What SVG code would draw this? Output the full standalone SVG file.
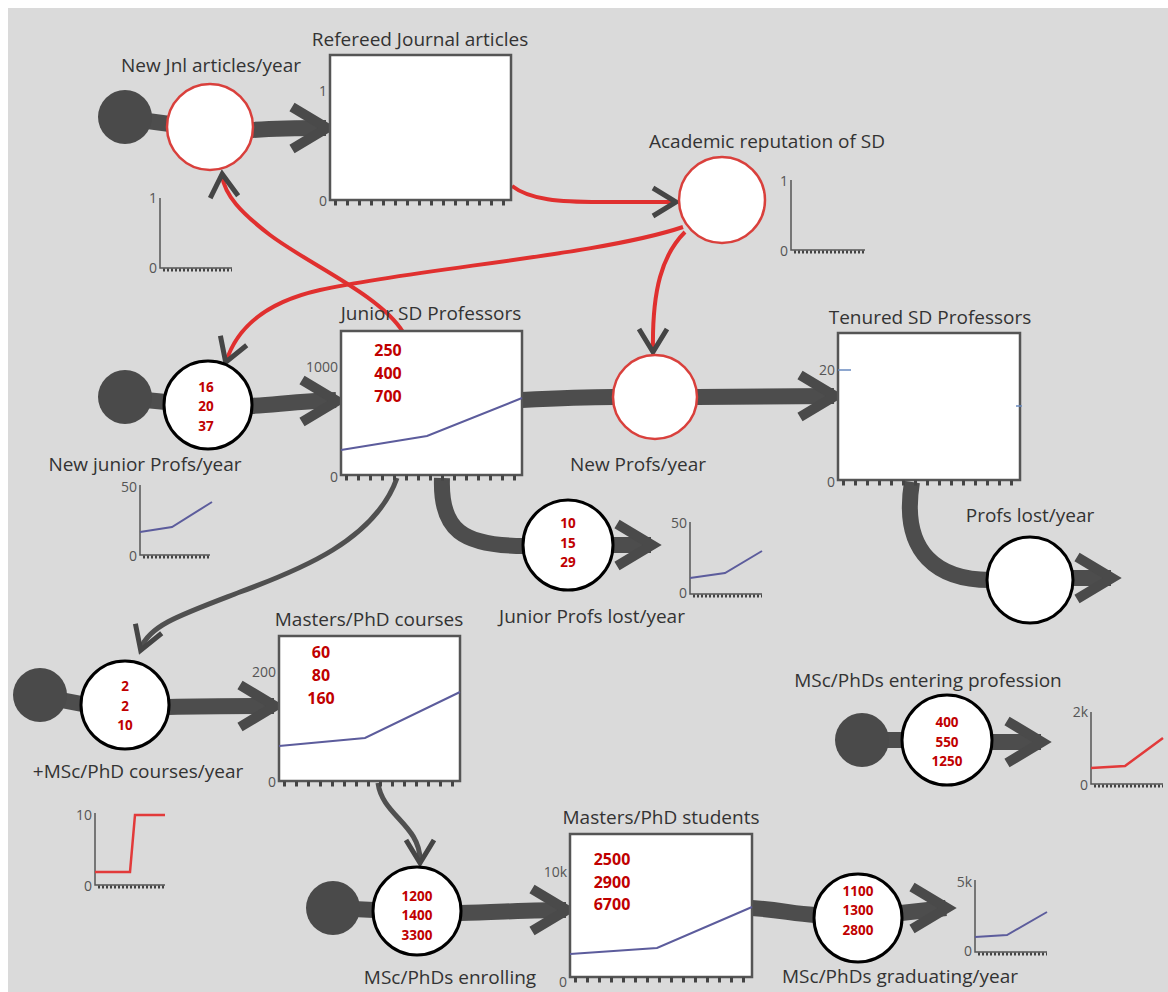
<svg xmlns="http://www.w3.org/2000/svg" xmlns:xlink="http://www.w3.org/1999/xlink" width="1168" height="992" viewBox="0 0 1168 992">
  <style>
    .pipe { stroke: #4d4d4d; stroke-width: 16; fill: none; }
    .cloud { fill: #4a4a4a; }
    .flowR { fill: #fff; stroke: #d9403c; stroke-width: 2.5; }
    .flowB { fill: #fff; stroke: #000; stroke-width: 3; }
    .stock { fill: #fff; stroke: #555; stroke-width: 2.5; }
    .lbl { font-family: "Open Sans", "Noto Sans", sans-serif; font-size: 19px; fill: #333; text-anchor: middle; }
    .num { font-family: "Open Sans", "Liberation Sans", sans-serif; font-weight: bold; font-size: 13.5px; fill: #c00000; text-anchor: middle; }
    .snum { font-family: "Open Sans", "Liberation Sans", sans-serif; font-weight: bold; font-size: 16px; fill: #c00000; text-anchor: middle; }
    .axis { stroke: #555; stroke-width: 1.5; fill: none; }
    .tk { stroke: #444; stroke-width: 5; stroke-dasharray: 3 9; fill: none; }
    .tks { stroke: #444; stroke-width: 3; stroke-dasharray: 2 2; fill: none; }
    .ax { font-family: "Open Sans", "Noto Sans", sans-serif; font-size: 14px; fill: #555; text-anchor: end; }
    .trend { stroke: #5c5c9c; stroke-width: 2; fill: none; }
    .trendR { stroke: #e23a3a; stroke-width: 2.5; fill: none; }
    .link { stroke: #e0302f; stroke-width: 4; fill: none; }
    .glink { stroke: #505050; stroke-width: 5; fill: none; }
    .head { stroke: #4a4a4a; stroke-width: 10; fill: none; stroke-linejoin: miter; stroke-miterlimit: 10; }
    .shead { stroke: #454545; stroke-width: 5; fill: none; stroke-linejoin: miter; stroke-miterlimit: 10; }
  </style>
  <defs>
    <!-- open chevron heads; tip at origin, pointing along +x -->
    <path id="bigHead" class="head" d="M-38,-21 L-3,0 L-38,21"/>
    <path id="smallHead" class="shead" d="M-25,-14 L-2,0 L-25,14"/>
  </defs>

  <rect x="8" y="8" width="1160" height="984" fill="#dadada"/>

  <!-- connectors: material flows and information links -->
  <g id="connectors">
    <!-- flow pipes -->
    <path class="pipe" d="M125,118 L170,124"/>
    <path class="pipe" d="M252,130 C280,128 300,128 326,128"/>
    <path class="pipe" d="M125,398 L166,402"/>
    <path class="pipe" d="M251,406 C280,404 305,401 336,400"/>
    <path class="pipe" d="M522,400 C560,398 590,397 614,397"/>
    <path class="pipe" d="M697,397 L834,396"/>
    <path class="pipe" d="M442,478 C440,530 462,546 525,546"/>
    <path class="pipe" d="M612,545 L651,545"/>
    <path class="pipe" d="M912,482 C900,555 940,580 990,580"/>
    <path class="pipe" d="M1072,578 L1111,578"/>
    <path class="pipe" d="M40,696 L82,704"/>
    <path class="pipe" d="M168,707 C210,706 245,706 274,706"/>
    <path class="pipe" d="M333,908 L374,910"/>
    <path class="pipe" d="M460,913 C500,912 535,910 566,910"/>
    <path class="pipe" d="M752,908 C780,910 795,914 815,915"/>
    <path class="pipe" d="M901,913 L946,908"/>
    <path class="pipe" d="M862,740 L904,740"/>
    <path class="pipe" d="M991,742 L1041,742"/>

    <use xlink:href="#bigHead" transform="translate(330,128)"/>
    <use xlink:href="#bigHead" transform="translate(340,401)"/>
    <use xlink:href="#bigHead" transform="translate(838,396)"/>
    <use xlink:href="#bigHead" transform="translate(655,545)"/>
    <use xlink:href="#bigHead" transform="translate(1115,578)"/>
    <use xlink:href="#bigHead" transform="translate(278,706)"/>
    <use xlink:href="#bigHead" transform="translate(570,910)"/>
    <use xlink:href="#bigHead" transform="translate(950,908)"/>
    <use xlink:href="#bigHead" transform="translate(1045,742)"/>

    <!-- information links -->
    <path class="link" d="M512,186 C530,200 560,202 600,202 L675,202"/>
    <path class="link" d="M683,227 C600,255 420,268 320,290 C262,303 236,330 226,362"/>
    <path class="link" d="M685,232 C662,255 652,290 653,350"/>
    <path class="link" d="M403,332 C380,295 310,265 270,235 C240,212 225,195 222,176"/>
    <use xlink:href="#smallHead" transform="translate(678,202)"/>
    <use xlink:href="#smallHead" transform="translate(225,364) rotate(110)"/>
    <use xlink:href="#smallHead" transform="translate(653,354) rotate(90)"/>
    <use xlink:href="#smallHead" transform="translate(222,172) rotate(-95)"/>

    <path class="glink" d="M397,478 C375,540 300,570 240,592 C180,615 150,625 141,648"/>
    <path class="glink" d="M378,783 C382,815 420,825 420,860"/>
    <use xlink:href="#smallHead" transform="translate(140,652) rotate(110)"/>
    <use xlink:href="#smallHead" transform="translate(420,865) rotate(90)"/>
  </g>

  <!-- New Jnl articles/year -->
  <g id="new-jnl-articles">
    <circle class="cloud" cx="125" cy="117" r="27"/>
    <circle class="flowR" cx="210" cy="127" r="43"/>
    <text class="lbl" x="211" y="72">New Jnl articles/year</text>
    <path class="axis" d="M160,198 L160,268 L232,268"/>
    <path class="tks" d="M163,270 L232,270"/>
    <text class="ax" x="157" y="203">1</text>
    <text class="ax" x="157" y="273">0</text>
  </g>

  <!-- Refereed Journal articles -->
  <g id="refereed-journal-articles">
    <rect class="stock" x="330" y="55" width="181" height="145"/>
    <text class="lbl" x="420" y="46">Refereed Journal articles</text>
    <path class="tk" d="M334,203 L508,203"/>
    <text class="ax" x="327" y="96">1</text>
    <text class="ax" x="327" y="206">0</text>
  </g>

  <!-- Academic reputation of SD -->
  <g id="academic-reputation">
    <circle class="flowR" cx="722" cy="200" r="43"/>
    <text class="lbl" x="767" y="148">Academic reputation of SD</text>
    <path class="axis" d="M791,180 L791,250 L865,250"/>
    <path class="tks" d="M794,252 L865,252"/>
    <text class="ax" x="788" y="186">1</text>
    <text class="ax" x="788" y="256">0</text>
  </g>

  <!-- New junior Profs/year -->
  <g id="new-junior-profs">
    <circle class="cloud" cx="125" cy="397" r="27"/>
    <circle class="flowB" cx="208" cy="405" r="44"/>
    <text class="num" x="206" y="392">16</text>
    <text class="num" x="206" y="411">20</text>
    <text class="num" x="206" y="431">37</text>
    <text class="lbl" x="145" y="471">New junior Profs/year</text>
    <path class="axis" d="M140,485 L140,555 L210,555"/>
    <path class="tks" d="M143,557 L210,557"/>
    <path class="trend" d="M140,532 L172,527 L212,502"/>
    <text class="ax" x="137" y="492">50</text>
    <text class="ax" x="137" y="561">0</text>
  </g>

  <!-- Junior SD Professors -->
  <g id="junior-sd-professors">
    <rect class="stock" x="341" y="331" width="181" height="144"/>
    <text class="lbl" x="431" y="320">Junior SD Professors</text>
    <text class="snum" x="388" y="356">250</text>
    <text class="snum" x="388" y="379">400</text>
    <text class="snum" x="388" y="402">700</text>
    <path class="trend" d="M341,450 L427,436 L522,398"/>
    <path class="tk" d="M345,478 L520,478"/>
    <text class="ax" x="338" y="372">1000</text>
    <text class="ax" x="338" y="482">0</text>
  </g>

  <!-- New Profs/year -->
  <g id="new-profs">
    <circle class="flowR" cx="655" cy="397" r="42"/>
    <text class="lbl" x="638" y="471">New Profs/year</text>
  </g>

  <!-- Tenured SD Professors -->
  <g id="tenured-sd-professors">
    <rect class="stock" x="838" y="333" width="182" height="147"/>
    <text class="lbl" x="930" y="324">Tenured SD Professors</text>
    <path class="tk" d="M842,483 L1018,483"/>
    <path d="M838,370 L851,370 M1016,406 L1022,406" stroke="#6a8ac0" stroke-width="1.5"/>
    <text class="ax" x="835" y="375">20</text>
    <text class="ax" x="835" y="487">0</text>
  </g>

  <!-- Profs lost/year -->
  <g id="profs-lost">
    <circle class="flowB" cx="1030" cy="580" r="43" stroke-width="2"/>
    <text class="lbl" x="1030" y="522">Profs lost/year</text>
  </g>

  <!-- Junior Profs lost/year -->
  <g id="junior-profs-lost">
    <circle class="flowB" cx="568" cy="545" r="45"/>
    <text class="num" x="568" y="528">10</text>
    <text class="num" x="568" y="548">15</text>
    <text class="num" x="568" y="567">29</text>
    <text class="lbl" x="592" y="623">Junior Profs lost/year</text>
    <path class="axis" d="M690,522 L690,594 L762,594"/>
    <path class="tks" d="M693,596 L762,596"/>
    <path class="trend" d="M690,578 L725,573 L762,551"/>
    <text class="ax" x="687" y="528">50</text>
    <text class="ax" x="687" y="598">0</text>
  </g>

  <!-- +MSc/PhD courses/year -->
  <g id="msc-phd-courses-rate">
    <circle class="cloud" cx="40" cy="695" r="27"/>
    <circle class="flowB" cx="125" cy="705" r="44"/>
    <text class="num" x="125" y="691">2</text>
    <text class="num" x="125" y="711">2</text>
    <text class="num" x="125" y="730">10</text>
    <text class="lbl" x="138" y="778">+MSc/PhD courses/year</text>
    <path class="axis" d="M95,813 L95,885 L165,885"/>
    <path class="tks" d="M98,887 L165,887"/>
    <path class="trendR" d="M95,872 L130,872 L135,815 L165,815"/>
    <text class="ax" x="92" y="820">10</text>
    <text class="ax" x="92" y="891">0</text>
  </g>

  <!-- Masters/PhD courses -->
  <g id="masters-phd-courses">
    <rect class="stock" x="279" y="636" width="181" height="145"/>
    <text class="lbl" x="369" y="626">Masters/PhD courses</text>
    <text class="snum" x="321" y="658">60</text>
    <text class="snum" x="321" y="681">80</text>
    <text class="snum" x="321" y="704">160</text>
    <path class="trend" d="M279,746 L365,738 L460,692"/>
    <path class="tk" d="M283,784 L458,784"/>
    <text class="ax" x="276" y="677">200</text>
    <text class="ax" x="276" y="787">0</text>
  </g>

  <!-- MSc/PhDs enrolling -->
  <g id="msc-phd-enrolling">
    <circle class="cloud" cx="333" cy="908" r="27"/>
    <circle class="flowB" cx="417" cy="911" r="44"/>
    <text class="num" x="417" y="901">1200</text>
    <text class="num" x="417" y="920">1400</text>
    <text class="num" x="417" y="940">3300</text>
    <text class="lbl" x="450" y="984">MSc/PhDs enrolling</text>
  </g>

  <!-- Masters/PhD students -->
  <g id="masters-phd-students">
    <rect class="stock" x="570" y="834" width="182" height="143"/>
    <text class="lbl" x="661" y="824">Masters/PhD students</text>
    <text class="snum" x="612" y="865">2500</text>
    <text class="snum" x="612" y="888">2900</text>
    <text class="snum" x="612" y="910">6700</text>
    <path class="trend" d="M570,954 L657,948 L752,907"/>
    <path class="tk" d="M574,980 L750,980"/>
    <text class="ax" x="567" y="877">10k</text>
    <text class="ax" x="567" y="987">0</text>
  </g>

  <!-- MSc/PhDs graduating/year -->
  <g id="msc-phd-graduating">
    <circle class="flowB" cx="858" cy="918" r="44"/>
    <text class="num" x="858" y="896">1100</text>
    <text class="num" x="858" y="915">1300</text>
    <text class="num" x="858" y="935">2800</text>
    <text class="lbl" x="900" y="983">MSc/PhDs graduating/year</text>
    <path class="axis" d="M975,880 L975,952 L1047,952"/>
    <path class="tks" d="M978,954 L1047,954"/>
    <path class="trend" d="M975,937 L1007,935 L1047,912"/>
    <text class="ax" x="972" y="887">5k</text>
    <text class="ax" x="972" y="956">0</text>
  </g>

  <!-- MSc/PhDs entering profession -->
  <g id="msc-phd-entering">
    <circle class="cloud" cx="862" cy="740" r="27"/>
    <circle class="flowB" cx="947" cy="740" r="45"/>
    <text class="num" x="947" y="727">400</text>
    <text class="num" x="947" y="747">550</text>
    <text class="num" x="947" y="766">1250</text>
    <text class="lbl" x="928" y="687">MSc/PhDs entering profession</text>
    <path class="axis" d="M1091,712 L1091,784 L1163,784"/>
    <path class="tks" d="M1094,786 L1163,786"/>
    <path class="trendR" d="M1091,768 L1125,766 L1163,738"/>
    <text class="ax" x="1088" y="717">2k</text>
    <text class="ax" x="1088" y="790">0</text>
  </g>
</svg>
